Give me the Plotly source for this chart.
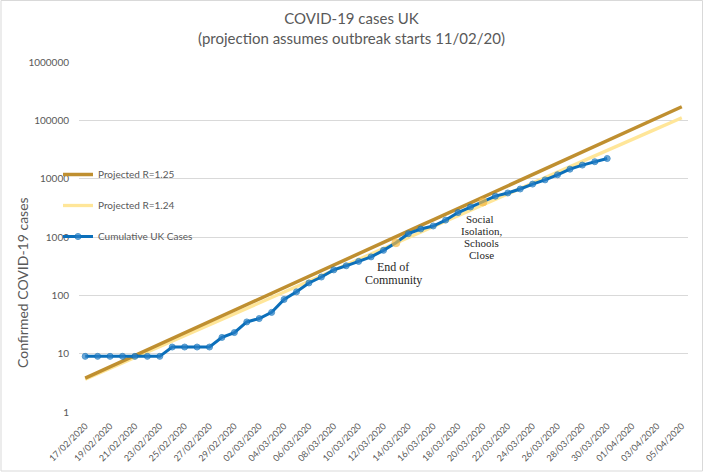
import plotly.graph_objects as go

dates = ["17/02/2020", "18/02/2020", "19/02/2020", "20/02/2020", "21/02/2020", "22/02/2020", "23/02/2020",
         "24/02/2020", "25/02/2020", "26/02/2020", "27/02/2020", "28/02/2020", "29/02/2020",
         "01/03/2020", "02/03/2020", "03/03/2020", "04/03/2020", "05/03/2020", "06/03/2020", "07/03/2020",
         "08/03/2020", "09/03/2020", "10/03/2020", "11/03/2020", "12/03/2020", "13/03/2020", "14/03/2020",
         "15/03/2020", "16/03/2020", "17/03/2020", "18/03/2020", "19/03/2020", "20/03/2020", "21/03/2020",
         "22/03/2020", "23/03/2020", "24/03/2020", "25/03/2020", "26/03/2020", "27/03/2020", "28/03/2020",
         "29/03/2020", "30/03/2020", "31/03/2020", "01/04/2020", "02/04/2020", "03/04/2020", "04/04/2020",
         "05/04/2020"]

projected_r125 = [3.81, 4.77, 5.96, 7.45, 9.31, 11.64, 14.55, 18.19, 22.74, 28.42, 35.53, 44.41, 55.51,
                  69.39, 86.74, 108.4, 135.5, 169.4, 211.8, 264.7, 330.9, 413.6, 517.0, 646.2, 807.8,
                  1010, 1262, 1578, 1972, 2465, 3082, 3852, 4815, 6019, 7523, 9404, 11755, 14694, 18367,
                  22959, 28699, 35873, 44842, 56052, 70065, 87581, 109476, 136846, 171057]

projected_r124 = [3.64, 4.51, 5.59, 6.93, 8.59, 10.66, 13.21, 16.39, 20.32, 25.20, 31.24, 38.74, 48.04,
                  59.57, 73.86, 91.59, 113.6, 140.8, 174.6, 216.5, 268.5, 333.0, 412.9, 512.0, 634.8,
                  787.2, 976.1, 1210, 1501, 1861, 2308, 2862, 3548, 4400, 5456, 6765, 8389, 10402, 12899,
                  15995, 19833, 24593, 30496, 37815, 46890, 58144, 72099, 89402, 110859]

cumulative_cases = [9, 9, 9, 9, 9, 9, 9, 13, 13, 13, 13, 19, 23,
                    35, 40, 51, 85, 115, 163, 206, 273, 321, 382, 456, 590, 798, 1140,
                    1372, 1543, 1950, 2626, 3269, 3983, 5018, 5683, 6650, 8077, 9529, 11658,
                    14543, 17089, 19522, 22141]

highlight_dates = ["13/03/2020", "20/03/2020"]

tick_labels = dates[::2]
y_tick_values = [1, 10, 100, 1000, 10000, 100000, 1000000]
y_tick_text = ["1", "10", "100", "1000", "10000", "100000", "1000000"]

GRAY = "#595959"
SANS = "Lato, 'Open Sans', sans-serif"
SERIF = "'Liberation Serif', 'DejaVu Serif', serif"

case_dates = dates[:len(cumulative_cases)]
marker_colors = ["#F5B942" if d in highlight_dates else "#2A80C6" for d in case_dates]
marker_sizes = [8 if d in highlight_dates else 6 for d in case_dates]
marker_line_colors = ["#F5B942" if d in highlight_dates else "#0B6FBA" for d in case_dates]

fig = go.Figure()
fig.add_trace(go.Scatter(x=dates, y=projected_r124, mode="lines", name="Projected R=1.24",
                         line=dict(color="#FFE699", width=3.3), legendgroup="b", legendrank=2))
fig.add_trace(go.Scatter(x=dates, y=projected_r125, mode="lines", name="Projected R=1.25",
                         line=dict(color="#BF8F30", width=3.5), legendgroup="a", legendrank=1))
fig.add_trace(go.Scatter(x=case_dates, y=cumulative_cases, mode="lines+markers", name="Cumulative UK Cases",
                         line=dict(color="#0B6FBA", width=3),
                         marker=dict(color=marker_colors, size=marker_sizes,
                                     line=dict(color=marker_line_colors, width=1)),
                         legendgroup="c", legendrank=3))

L, R, T, B = 79, 15, 62, 61
W, H = 703, 473
pw, ph = W - L - R, H - T - B

def px(x):
    return (x - L) / pw

def py(y):
    return (H - B - y) / ph

annotations = [
    dict(text="Confirmed COVID-19 cases", x=px(22), y=py(283), xref="paper", yref="paper",
         xanchor="center", yanchor="middle",
         textangle=-90, showarrow=False, font=dict(family=SANS, size=14, color=GRAY)),
]
for txt, x, y, size in [("End of", 393, 267, 12), ("Community", 393, 280, 12),
                        ("Social", 480, 219, 11), ("Isolation,", 481, 231, 11),
                        ("Schools", 481, 243, 11), ("Close", 481, 255, 11)]:
    annotations.append(dict(text=txt, x=px(x), y=py(y), xref="paper", yref="paper",
                            showarrow=False, xanchor="center", yanchor="middle",
                            font=dict(family=SERIF, size=size, color="#262626")))

fig.update_layout(
    width=W, height=H,
    margin=dict(l=L, r=R, t=T, b=B, autoexpand=False),
    paper_bgcolor="white", plot_bgcolor="white",
    title=dict(text="COVID-19 cases UK<br>(projection assumes outbreak starts 11/02/20)",
               x=0.5, xref="container", xanchor="center",
               y=1 - 24 / H, yref="container", yanchor="middle",
               font=dict(family=SANS, size=15, color=GRAY)),
    xaxis=dict(type="category", categoryorder="array", categoryarray=dates,
               range=[-0.5, len(dates) - 0.5],
               tickmode="array", tickvals=tick_labels, ticktext=tick_labels,
               tickangle=-45, tickfont=dict(family=SANS, size=9, color=GRAY),
               showgrid=False, showline=False, zeroline=False, ticks="", automargin=False,
               ticklabelstandoff=6),
    yaxis=dict(type="log", range=[0, 6], tickmode="array", tickvals=y_tick_values, ticktext=y_tick_text,
               tickfont=dict(family=SANS, size=10, color=GRAY),
               showgrid=True, gridcolor="#D9D9D9", gridwidth=1, showline=False, zeroline=False,
               ticks="", ticklabelstandoff=9, automargin=False),
    legend=dict(x=px(58), y=py(160), xanchor="left", yanchor="top",
                bgcolor="rgba(0,0,0,0)", traceorder="grouped", tracegroupgap=12,
                font=dict(family=SANS, size=10, color=GRAY), itemwidth=30),
    annotations=annotations,
    shapes=[dict(type="rect", xref="paper", yref="paper",
                 x0=px(1), x1=px(702.5), y0=py(471), y1=py(0.5),
                 line=dict(color="#D9D9D9", width=1), fillcolor="rgba(0,0,0,0)", layer="below")],
)

fig.write_html("out.html", config={"displayModeBar": False},
               post_script="document.body.style.margin='0';document.body.style.padding='0';")
